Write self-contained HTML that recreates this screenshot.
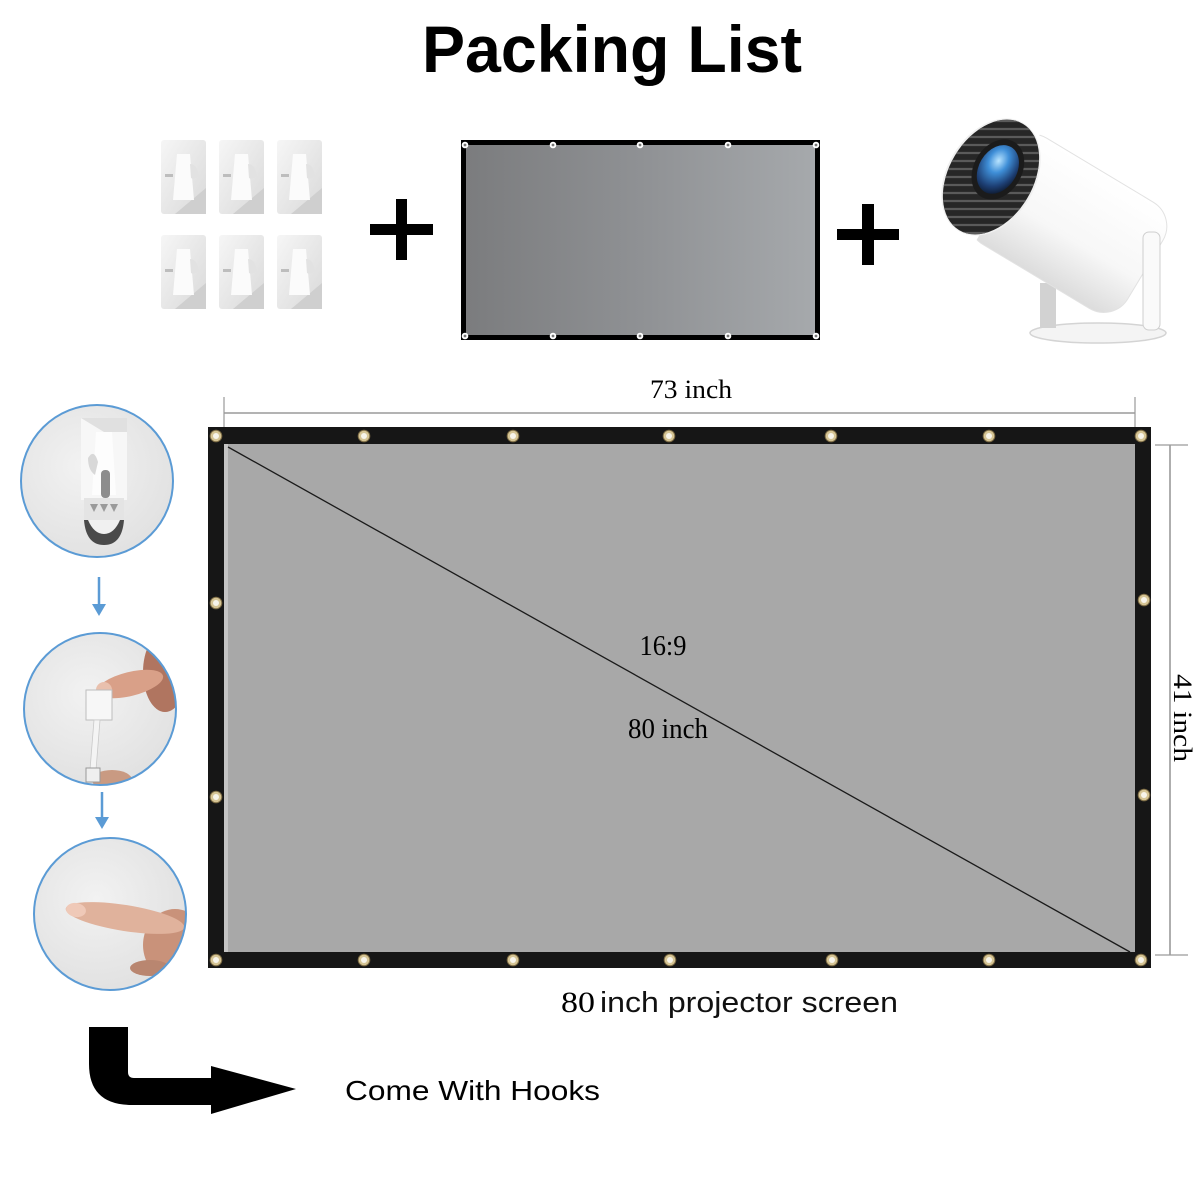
<!DOCTYPE html>
<html>
<head>
<meta charset="utf-8">
<style>
html,body{margin:0;padding:0;background:#fff;}
svg{display:block;}
</style>
</head>
<body>
<svg width="1200" height="1200" viewBox="0 0 1200 1200" xmlns="http://www.w3.org/2000/svg">
<defs>
  <linearGradient id="smallScr" x1="0" y1="0" x2="1" y2="0">
    <stop offset="0" stop-color="#7b7c7e"/>
    <stop offset="0.5" stop-color="#8f9194"/>
    <stop offset="1" stop-color="#a6a9ac"/>
  </linearGradient>
  <linearGradient id="hookBg" x1="0" y1="0" x2="1" y2="1">
    <stop offset="0" stop-color="#f6f6f6"/>
    <stop offset="1" stop-color="#d9d9d9"/>
  </linearGradient>
  <linearGradient id="body" x1="0" y1="0" x2="0" y2="1">
    <stop offset="0" stop-color="#ffffff"/>
    <stop offset="0.6" stop-color="#f7f7f7"/>
    <stop offset="1" stop-color="#dcdcdc"/>
  </linearGradient>
  <radialGradient id="lens" cx="0.4" cy="0.35" r="0.7">
    <stop offset="0" stop-color="#b9e4ff"/>
    <stop offset="0.35" stop-color="#3f8fd8"/>
    <stop offset="0.75" stop-color="#1d3f74"/>
    <stop offset="1" stop-color="#0e1a30"/>
  </radialGradient>
  <radialGradient id="circBg" cx="0.4" cy="0.4" r="0.7">
    <stop offset="0" stop-color="#f2f2f2"/>
    <stop offset="1" stop-color="#dedede"/>
  </radialGradient>
  <clipPath id="c1"><circle cx="97" cy="481" r="76"/></clipPath>
  <clipPath id="c2"><circle cx="100" cy="709" r="76"/></clipPath>
  <clipPath id="c3"><circle cx="110" cy="914" r="76"/></clipPath>
  <clipPath id="faceClip"><ellipse cx="0" cy="0" rx="42" ry="62"/></clipPath>
  <g id="hook">
    <rect x="0" y="0" width="45" height="74" rx="3" fill="url(#hookBg)"/>
    <path d="M14 74 L45 48 L45 74 Z" fill="#cfcfcf"/>
    <path d="M16 14 L29 14 L33 60 L12 60 Z" fill="#fbfbfb"/>
    <path d="M29 24 Q36 24 38 36 Q33 40 30 38 Z" fill="#e2e2e2"/>
    <rect x="4" y="34" width="8" height="3" fill="#bdbdbd"/>
  </g>
  <g id="gr">
    <circle r="5.8" fill="#d6c595" stroke="#7d6c45" stroke-width="1"/>
    <circle r="3" fill="#f7f4ea"/>
  </g>
  <g id="sg">
    <circle r="3.3" fill="#fff"/>
    <circle r="1.4" fill="#777"/>
  </g>
</defs>

<!-- Title -->
<text x="612" y="72" font-family="Liberation Sans, sans-serif" font-weight="bold" font-size="66" text-anchor="middle" textLength="380" lengthAdjust="spacingAndGlyphs" fill="#000">Packing List</text>

<!-- Hooks -->
<use href="#hook" x="161" y="140"/>
<use href="#hook" x="219" y="140"/>
<use href="#hook" x="277" y="140"/>
<use href="#hook" x="161" y="235"/>
<use href="#hook" x="219" y="235"/>
<use href="#hook" x="277" y="235"/>

<!-- Plus 1 -->
<rect x="370" y="224" width="63" height="11" fill="#000"/>
<rect x="396" y="199" width="11" height="61" fill="#000"/>

<!-- Small screen -->
<rect x="461" y="140" width="359" height="200" fill="#000"/>
<rect x="466" y="145" width="349" height="190" fill="url(#smallScr)"/>
<use href="#sg" x="465" y="145"/><use href="#sg" x="553" y="145"/><use href="#sg" x="640" y="145"/><use href="#sg" x="728" y="145"/><use href="#sg" x="816" y="145"/>
<use href="#sg" x="465" y="336"/><use href="#sg" x="553" y="336"/><use href="#sg" x="640" y="336"/><use href="#sg" x="728" y="336"/><use href="#sg" x="816" y="336"/>

<!-- Plus 2 -->
<rect x="837" y="229" width="62" height="11" fill="#000"/>
<rect x="862" y="204" width="12" height="61" fill="#000"/>

<!-- Projector -->
<ellipse cx="1098" cy="333" rx="68" ry="10" fill="#f4f4f4" stroke="#d4d4d4" stroke-width="1.5"/>
<rect x="1040" y="283" width="16" height="45" fill="#d2d2d2"/>
<g transform="translate(991,177) rotate(31)">
  <rect x="0" y="-62" width="180" height="124" rx="28" fill="url(#body)" stroke="#e2e2e2" stroke-width="1"/>
  <rect x="0" y="-62" width="20" height="124" fill="#fff"/>
  <ellipse cx="0" cy="0" rx="44" ry="63" fill="#f0f0f0"/>
  <g clip-path="url(#faceClip)">
    <rect x="-50" y="-70" width="100" height="140" fill="#262626"/>
    <g transform="rotate(-31)" stroke="#5a5a5a" stroke-width="2.2">
      <line x1="-80" y1="-56" x2="80" y2="-56"/><line x1="-80" y1="-48" x2="80" y2="-48"/>
      <line x1="-80" y1="-40" x2="80" y2="-40"/><line x1="-80" y1="-32" x2="80" y2="-32"/>
      <line x1="-80" y1="-24" x2="80" y2="-24"/><line x1="-80" y1="-16" x2="80" y2="-16"/>
      <line x1="-80" y1="-8" x2="80" y2="-8"/><line x1="-80" y1="0" x2="80" y2="0"/>
      <line x1="-80" y1="8" x2="80" y2="8"/><line x1="-80" y1="16" x2="80" y2="16"/>
      <line x1="-80" y1="24" x2="80" y2="24"/><line x1="-80" y1="32" x2="80" y2="32"/>
      <line x1="-80" y1="40" x2="80" y2="40"/><line x1="-80" y1="48" x2="80" y2="48"/>
      <line x1="-80" y1="56" x2="80" y2="56"/>
    </g>
    <ellipse cx="2" cy="-10" rx="24" ry="32" fill="#1b1b1b"/>
    <ellipse cx="2" cy="-10" rx="19" ry="26" fill="url(#lens)"/>
  </g>
</g>
<rect x="1143" y="232" width="17" height="98" rx="6" fill="#fafafa" stroke="#cfcfcf" stroke-width="1"/>

<!-- Dimension lines -->
<line x1="224" y1="413" x2="1135" y2="413" stroke="#9a9a9a" stroke-width="1.6"/>
<line x1="224" y1="397" x2="224" y2="427" stroke="#9a9a9a" stroke-width="1.2"/>
<line x1="1135" y1="397" x2="1135" y2="427" stroke="#9a9a9a" stroke-width="1.2"/>
<text x="691" y="398" font-family="Liberation Serif, serif" font-size="26" text-anchor="middle" textLength="82" lengthAdjust="spacingAndGlyphs" fill="#000">73 inch</text>

<line x1="1170" y1="445" x2="1170" y2="955" stroke="#9a9a9a" stroke-width="1.6"/>
<line x1="1155" y1="445" x2="1188" y2="445" stroke="#9a9a9a" stroke-width="1.2"/>
<line x1="1155" y1="955" x2="1188" y2="955" stroke="#9a9a9a" stroke-width="1.2"/>
<text transform="translate(1174,718) rotate(90)" x="0" y="0" font-family="Liberation Serif, serif" font-size="26" text-anchor="middle" textLength="88" lengthAdjust="spacingAndGlyphs" fill="#000">41 inch</text>

<!-- Big screen -->
<rect x="208" y="427" width="943" height="541" fill="#161616"/>
<rect x="224" y="444" width="911" height="508" fill="#a8a8a8"/>
<rect x="224" y="444" width="4" height="508" fill="#c4c4c4"/>
<line x1="228" y1="447" x2="1130" y2="952" stroke="#1a1a1a" stroke-width="1.3"/>
<text x="663" y="655" font-family="Liberation Serif, serif" font-size="28" text-anchor="middle" textLength="47" lengthAdjust="spacingAndGlyphs" fill="#000">16:9</text>
<text x="668" y="738" font-family="Liberation Serif, serif" font-size="29" text-anchor="middle" textLength="80" lengthAdjust="spacingAndGlyphs" fill="#000">80 inch</text>

<!-- grommets -->
<use href="#gr" x="216" y="436"/><use href="#gr" x="364" y="436"/><use href="#gr" x="513" y="436"/><use href="#gr" x="669" y="436"/><use href="#gr" x="831" y="436"/><use href="#gr" x="989" y="436"/><use href="#gr" x="1141" y="436"/>
<use href="#gr" x="216" y="960"/><use href="#gr" x="364" y="960"/><use href="#gr" x="513" y="960"/><use href="#gr" x="670" y="960"/><use href="#gr" x="832" y="960"/><use href="#gr" x="989" y="960"/><use href="#gr" x="1141" y="960"/>
<use href="#gr" x="216" y="603"/><use href="#gr" x="216" y="797"/>
<use href="#gr" x="1144" y="600"/><use href="#gr" x="1144" y="795"/>

<!-- bottom caption -->
<text x="561" y="1012" font-family="Liberation Serif, serif" font-size="30" textLength="34" lengthAdjust="spacingAndGlyphs" fill="#000">80</text>
<text x="600" y="1012" font-family="Liberation Sans, sans-serif" font-size="29" textLength="298" lengthAdjust="spacingAndGlyphs" fill="#111">inch projector screen</text>

<!-- Circle 1 -->
<g clip-path="url(#c1)">
  <rect x="15" y="400" width="170" height="165" fill="url(#circBg)"/>
  <rect x="81" y="418" width="46" height="82" fill="#f7f7f7"/>
  <path d="M81 418 L127 418 L127 432 L104 432 Z" fill="#e0e0e0"/>
  <path d="M96 432 L112 432 L116 495 L92 495 Z" fill="#fdfdfd"/>
  <path d="M88 458 Q94 448 98 462 L95 475 Q88 470 88 458Z" fill="#d8d8d8"/>
  <rect x="101" y="470" width="9" height="28" rx="4" fill="#8d8d8d"/>
  <rect x="84" y="498" width="40" height="22" fill="#e4e4e4"/>
  <path d="M90 504 L98 504 L94 512 Z M100 504 L108 504 L104 512 Z M110 504 L118 504 L114 512 Z" fill="#9a9a9a"/>
  <path d="M84 520 L124 520 Q122 545 104 545 Q86 545 84 520 Z" fill="#4a4a4a"/>
  <path d="M88 520 L120 520 Q114 534 104 534 Q94 534 88 520 Z" fill="#f0f0f0"/>
</g>
<circle cx="97" cy="481" r="76" fill="none" stroke="#5b9bd5" stroke-width="2"/>

<!-- arrow 1 -->
<line x1="99" y1="577" x2="99" y2="608" stroke="#5b9bd5" stroke-width="2.5"/>
<path d="M92 604 L106 604 L99 616 Z" fill="#5b9bd5"/>

<!-- Circle 2 -->
<g clip-path="url(#c2)">
  <rect x="20" y="630" width="170" height="160" fill="url(#circBg)"/>
  <ellipse cx="165" cy="672" rx="22" ry="40" fill="#b07560"/>
  <ellipse cx="130" cy="684" rx="34" ry="12" transform="rotate(-14 130 684)" fill="#d9a088"/>
  <ellipse cx="104" cy="690" rx="8" ry="8" fill="#e9c0ad"/>
  <rect x="86" y="690" width="26" height="30" fill="#f7f7f7" stroke="#bdbdbd" stroke-width="1"/>
  <path d="M94 720 L100 720 L96 770 L90 770 Z" fill="#f4f4f4" stroke="#c9c9c9" stroke-width="0.8"/>
  <ellipse cx="112" cy="780" rx="20" ry="10" fill="#c99a82"/>
  <rect x="86" y="768" width="14" height="14" fill="#efefef" stroke="#999" stroke-width="1"/>
</g>
<circle cx="100" cy="709" r="76" fill="none" stroke="#5b9bd5" stroke-width="2"/>

<!-- arrow 2 -->
<line x1="102" y1="792" x2="102" y2="820" stroke="#5b9bd5" stroke-width="2.5"/>
<path d="M95 817 L109 817 L102 829 Z" fill="#5b9bd5"/>

<!-- Circle 3 -->
<g clip-path="url(#c3)">
  <rect x="30" y="835" width="165" height="160" fill="url(#circBg)"/>
  <ellipse cx="175" cy="945" rx="32" ry="36" fill="#c9927a"/>
  <ellipse cx="125" cy="918" rx="60" ry="13" transform="rotate(9 125 918)" fill="#e0b29c"/>
  <ellipse cx="76" cy="910" rx="10" ry="7" transform="rotate(9 76 910)" fill="#efc9b8"/>
  <ellipse cx="150" cy="968" rx="20" ry="8" fill="#b98670"/>
</g>
<circle cx="110" cy="914" r="76" fill="none" stroke="#5b9bd5" stroke-width="2"/>

<!-- Big black arrow -->
<path d="M89 1027 L128 1027 L128 1072 Q128 1078 134 1078 L211 1078 L211 1066 L296 1089 L211 1114 L211 1105 L132 1105 Q89 1105 89 1064 Z" fill="#000"/>

<text x="345" y="1100" font-family="Liberation Sans, sans-serif" font-size="28" textLength="255" lengthAdjust="spacingAndGlyphs" fill="#000">Come With Hooks</text>
</svg>
</body>
</html>
